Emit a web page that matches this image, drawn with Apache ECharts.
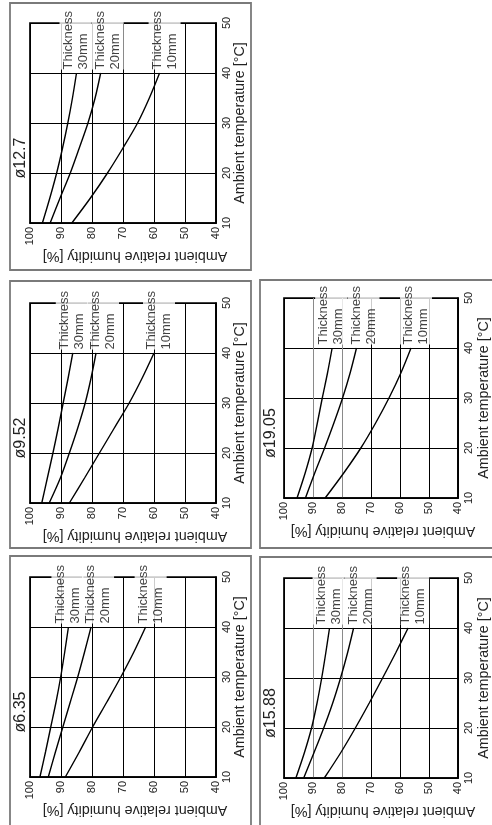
<!DOCTYPE html>
<html><head><meta charset="utf-8">
<script src="https://cdn.jsdelivr.net/npm/echarts@6/dist/echarts.min.js"></script>
<style>html,body{margin:0;padding:0;background:#fff}#c{width:492px;height:825px}</style>
</head><body><div id="c"></div>
<script>
// ---- data ----
const temperatures = [10, 15, 20, 25, 30, 35, 40];          // Ambient temperature [°C]
const thicknessLabels = ['Thickness\n30mm', 'Thickness\n20mm', 'Thickness\n10mm'];
const panelNames = ['ø12.7', 'ø9.52', 'ø6.35', 'ø19.05', 'ø15.88'];
// Ambient relative humidity [%] at which condensation starts
const rh12_7_30mm = [96.0, 93.6, 91.4, 89.5, 87.8, 86.3, 85.0];
const rh12_7_20mm = [93.5, 90.3, 87.0, 84.1, 81.3, 79.0, 77.2];
const rh12_7_10mm = [86.5, 80.5, 75.0, 70.0, 65.3, 61.5, 58.2];
const rh9_52_30mm = [96.2, 94.4, 92.6, 90.9, 89.3, 87.7, 86.2];
const rh9_52_20mm = [93.8, 90.2, 87.3, 84.6, 82.2, 80.3, 78.7];
const rh9_52_10mm = [87.3, 82.4, 77.6, 72.8, 68.0, 63.8, 60.0];
const rh6_35_30mm = [96.8, 95.0, 93.3, 91.6, 90.1, 88.8, 87.6];
const rh6_35_20mm = [94.1, 91.8, 89.4, 87.0, 84.6, 82.4, 80.3];
const rh6_35_10mm = [88.6, 84.1, 79.8, 75.2, 70.7, 66.5, 62.7];
const rh19_05_30mm = [95.5, 92.7, 90.3, 88.5, 86.8, 85.0, 83.4];
const rh19_05_20mm = [92.6, 89.4, 86.0, 82.8, 79.8, 77.2, 75.0];
const rh19_05_10mm = [85.8, 79.4, 73.5, 68.4, 63.8, 59.7, 56.2];
const rh15_88_30mm = [95.9, 93.0, 90.5, 88.6, 87.0, 85.6, 84.3];
const rh15_88_20mm = [93.2, 89.7, 86.3, 83.2, 80.5, 78.1, 76.0];
const rh15_88_10mm = [86.1, 80.5, 75.4, 70.6, 66.0, 61.5, 57.2];
const panelSeries = [
  [rh12_7_30mm, rh12_7_20mm, rh12_7_10mm],
  [rh9_52_30mm, rh9_52_20mm, rh9_52_10mm],
  [rh6_35_30mm, rh6_35_20mm, rh6_35_10mm],
  [rh19_05_30mm, rh19_05_20mm, rh19_05_10mm],
  [rh15_88_30mm, rh15_88_20mm, rh15_88_10mm]
];

// ---- layout / style ----
const FONT = "'Liberation Sans', Arial, Helvetica, sans-serif";
const layout = [
  {gl: 30,  gt: 23,  bx: 10,  by: 3,   bw: 241, bh: 267, gray: false, ng: 17},
  {gl: 30,  gt: 303, bx: 10,  by: 281, bw: 241, bh: 267, gray: false, ng: 17},
  {gl: 30,  gt: 577, bx: 10,  by: 556, bw: 241, bh: 300, gray: false, ng: 17},
  {gl: 284, gt: 298, bx: 260, by: 280, bw: 260, bh: 268, gray: true,  ng: 19},
  {gl: 284, gt: 578, bx: 260, by: 557, bw: 260, bh: 300, gray: true,  ng: 19}
];
const GW = 186, GH = 200, LABEL_T = 40.7;
const labelShift = [-1, 7, 5];   // horizontal nudge of each thickness label (px)

const labelBase = {show: true, rotate: 90, align: 'left', verticalAlign: 'middle',
  fontSize: 13, lineHeight: 15, fontFamily: FONT};

const grids = [], xAxes = [], yAxes = [], series = [], graphics = [];
layout.forEach((L, i) => {
  grids.push({left: L.gl, top: L.gt, width: GW, height: GH, show: true,
    borderColor: '#000', borderWidth: 1.7, backgroundColor: 'transparent'});
  const xs = L.gray ? ['#000', '#000', '#000', '#000', '#8a8a8a', '#8a8a8a', '#000'] : ['#000'];
  xAxes.push({gridIndex: i, type: 'value', min: 40, max: 100, interval: 10, inverse: true,
    axisLine: {show: true, lineStyle: {color: '#000', width: 1.7}},
    axisTick: {show: false},
    axisLabel: {rotate: 90, fontSize: 11, margin: 4, color: '#222', fontFamily: FONT},
    splitLine: {show: true, lineStyle: {color: xs, width: 1}},
    name: 'Ambient relative humidity [%]', nameLocation: 'middle', nameRotate: 180, nameGap: 22,
    nameTextStyle: {fontSize: 14.3, color: '#222', fontFamily: FONT, padding: [0, 24, 0, 0]}
  });
  yAxes.push({gridIndex: i, type: 'value', min: 10, max: 50, interval: 10, position: 'right',
    axisLine: {show: true, lineStyle: {color: '#000', width: 1.7}},
    axisTick: {show: false},
    axisLabel: {rotate: 90, fontSize: 11, margin: 5, color: '#222', fontFamily: FONT},
    splitLine: {show: true, lineStyle: {color: '#000', width: 1}},
    name: 'Ambient temperature [°C]', nameLocation: 'middle', nameRotate: 90, nameGap: L.ng,
    nameTextStyle: {fontSize: 14.3, color: '#222', fontFamily: FONT}
  });
  panelSeries[i].forEach(rh => {
    series.push({type: 'line', xAxisIndex: i, yAxisIndex: i, smooth: 0.3, showSymbol: false,
      silent: true, lineStyle: {color: '#000', width: 1.4},
      data: temperatures.map((t, j) => [rh[j], t])});
  });
  const labelPts = () => panelSeries[i].map((rh, k) => ({
    value: [rh[rh.length - 1], LABEL_T],
    label: {position: [labelShift[k], 0]}
  }));
  // white boxes behind the labels (hide grid/border where labels sit)
  series.push({type: 'scatter', xAxisIndex: i, yAxisIndex: i, symbolSize: 0, silent: true, z: 4,
    data: labelPts(),
    label: Object.assign({}, labelBase, {formatter: p => thicknessLabels[p.dataIndex],
      color: 'rgba(0,0,0,0)', backgroundColor: '#fff', padding: [1, 3, 1, 0]})
  });
  // label texts
  series.push({type: 'scatter', xAxisIndex: i, yAxisIndex: i, symbolSize: 0, silent: true, z: 6,
    data: labelPts(),
    label: Object.assign({}, labelBase, {formatter: p => thicknessLabels[p.dataIndex],
      color: '#111', padding: [1, 3, 1, 0]})
  });
  graphics.push({type: 'text', z: 20, x: L.bx + 11, y: L.gt + 135, rotation: Math.PI / 2,
    style: {text: panelNames[i], font: '16px ' + FONT, fill: '#222', textAlign: 'center', textVerticalAlign: 'middle'}});
  graphics.push({type: 'rect', z: 60, shape: {x: L.bx, y: L.by, width: L.bw, height: L.bh},
    style: {fill: 'none', stroke: '#7a7a7a', lineWidth: 1.8}});
});

const chart = echarts.init(document.getElementById('c'), null, {renderer: 'canvas'});
chart.setOption({
  animation: false,
  backgroundColor: '#fff',
  textStyle: {fontFamily: FONT},
  grid: grids, xAxis: xAxes, yAxis: yAxes, series: series, graphic: graphics
});
</script></body></html>
